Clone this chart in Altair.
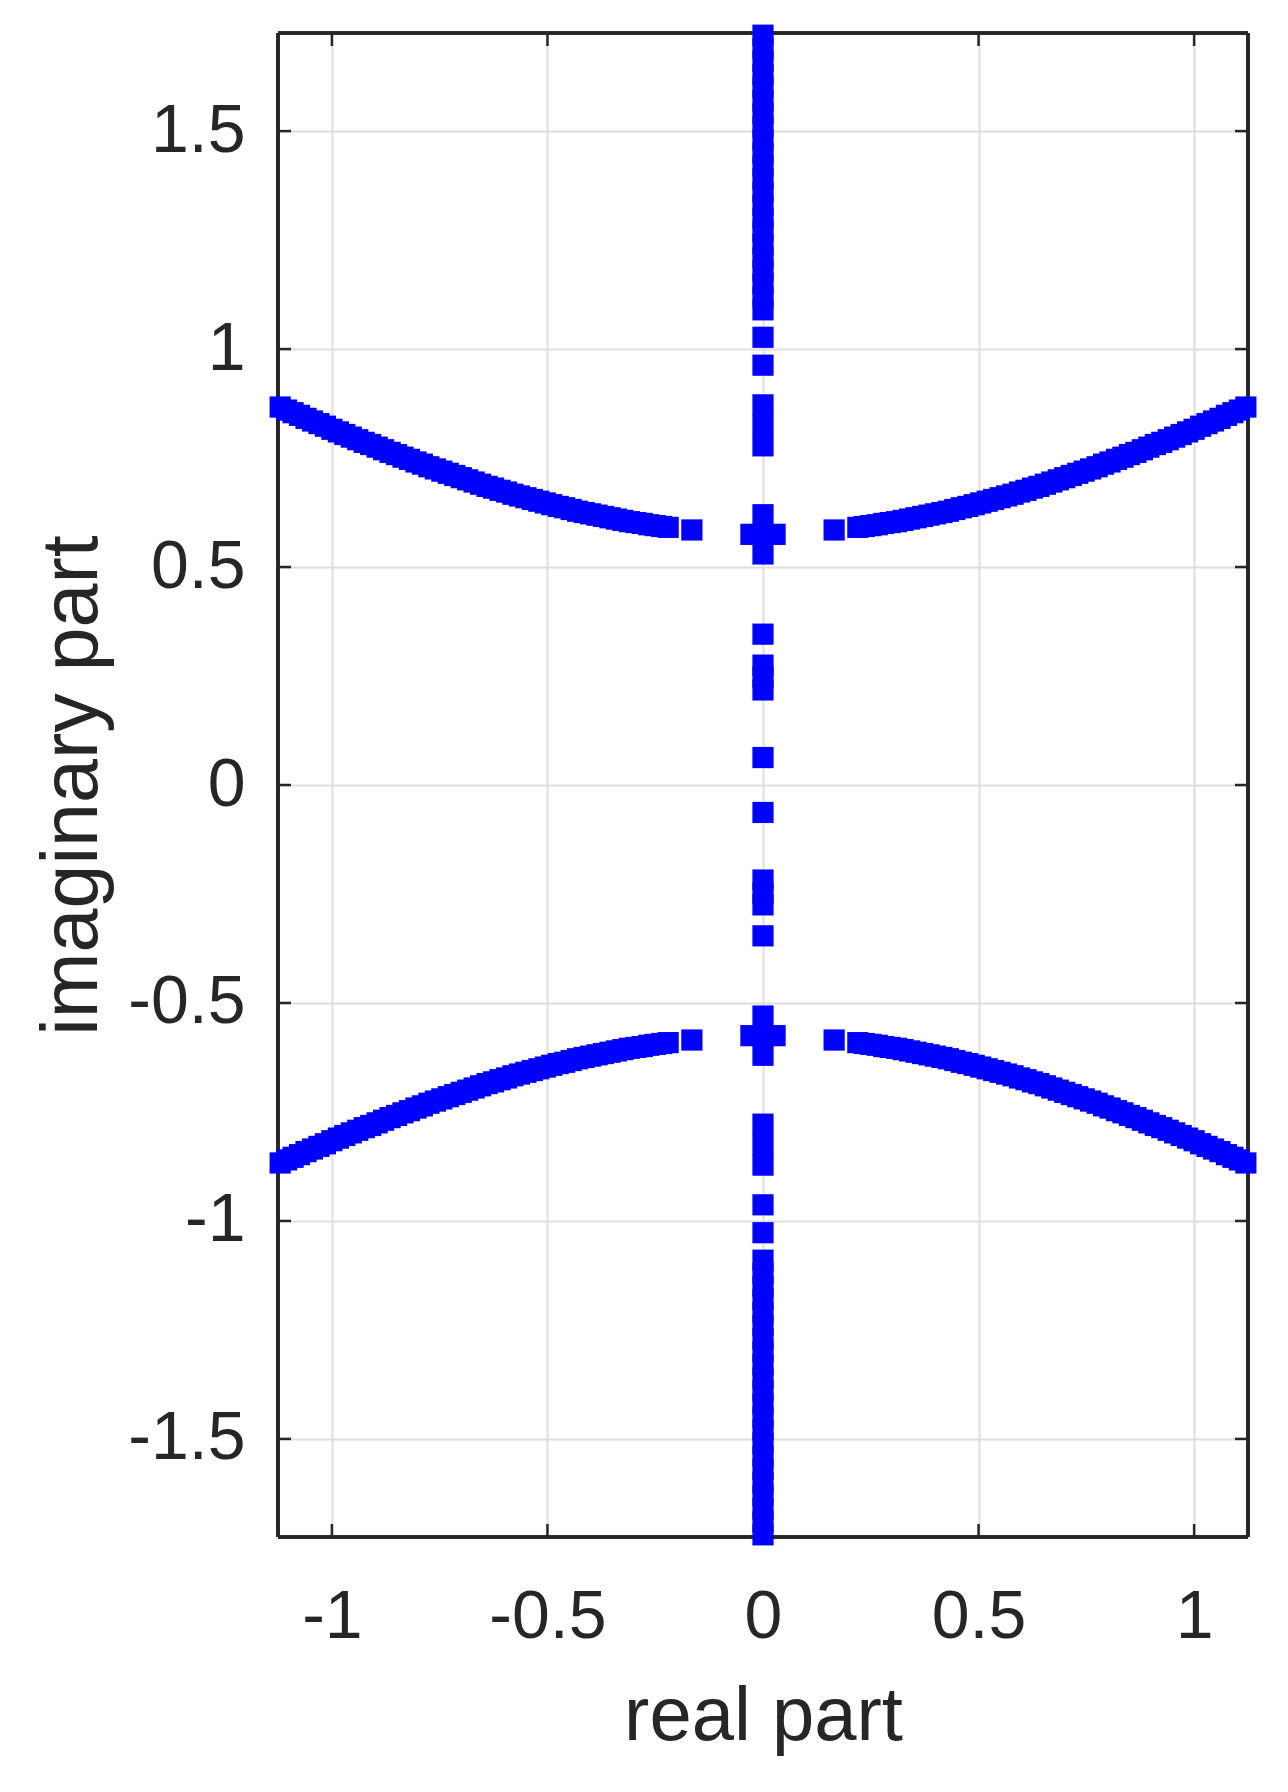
import altair as alt
import pandas as pd

# ---- data (positive quadrant; plot is symmetric) ----
curve_x = [1.12, 1.105, 1.09, 1.075, 1.06, 1.045, 1.03, 1.015, 1.00, 0.985,
           0.97, 0.955, 0.94, 0.925, 0.91, 0.895, 0.88, 0.865, 0.85, 0.835,
           0.82, 0.805, 0.79, 0.775, 0.76, 0.745, 0.73, 0.715, 0.70, 0.685,
           0.67, 0.655, 0.64, 0.625, 0.61, 0.595, 0.58, 0.565, 0.55, 0.535,
           0.52, 0.505, 0.49, 0.475, 0.46, 0.445, 0.43, 0.415, 0.40, 0.385,
           0.37, 0.355, 0.34, 0.325, 0.31, 0.295, 0.28, 0.265, 0.25, 0.235,
           0.22, 0.165]
curve_y = [0.867, 0.860, 0.854, 0.848, 0.841, 0.835, 0.829, 0.823, 0.816, 0.810,
           0.804, 0.798, 0.792, 0.786, 0.781, 0.775, 0.769, 0.763, 0.758, 0.752,
           0.747, 0.741, 0.736, 0.730, 0.725, 0.720, 0.715, 0.710, 0.705, 0.700,
           0.695, 0.690, 0.685, 0.681, 0.676, 0.672, 0.667, 0.663, 0.659, 0.655,
           0.651, 0.647, 0.643, 0.639, 0.636, 0.632, 0.628, 0.625, 0.622, 0.619,
           0.616, 0.613, 0.610, 0.607, 0.604, 0.602, 0.600, 0.597, 0.595, 0.593,
           0.591, 0.585]
axis_bar_y = [1.09, 1.12, 1.15, 1.18, 1.21, 1.24, 1.27, 1.30, 1.33, 1.36, 1.39,
              1.42, 1.45, 1.48, 1.51, 1.54, 1.57, 1.60, 1.63, 1.66, 1.69, 1.72]
axis_dot_y = [1.027, 0.963, 0.872, 0.825, 0.778, 0.62, 0.575, 0.53,
              0.346, 0.275, 0.248, 0.218, 0.063]
cross_x = [-0.028, 0.028]
cross_y = 0.575

x_ticks = [-1, -0.5, 0, 0.5, 1]
y_ticks = [-1.5, -1, -0.5, 0, 0.5, 1, 1.5]

rows = []
for sy in (1, -1):
    for sx in (1, -1):
        for a, b in zip(curve_x, curve_y):
            rows.append({"re": sx * a, "im": sy * b})
    for b in axis_bar_y + axis_dot_y:
        rows.append({"re": 0.0, "im": sy * b})
    for a in cross_x:
        rows.append({"re": a, "im": sy * cross_y})
df = pd.DataFrame(rows)

W, H = 970, 1504
FONT = "Liberation Sans"
TXT = "#262626"

xscale = alt.Scale(domain=[-1.125, 1.125], nice=False, zero=False)
yscale = alt.Scale(domain=[-1.725, 1.725], nice=False, zero=False)
xaxis = alt.Axis(values=x_ticks, title="real part", grid=True, ticks=False,
                 domain=False, labelExpr="'' + datum.value", labelFontSize=68,
                 labelPadding=46, titleFontSize=76, titlePadding=28,
                 labelFont=FONT, titleFont=FONT, labelColor=TXT, titleColor=TXT,
                 titleFontWeight="normal", gridColor="#dedede", gridWidth=2)
yaxis = alt.Axis(values=y_ticks, title="imaginary part", grid=True, ticks=False,
                 domain=False, labelExpr="'' + datum.value", labelFontSize=68,
                 labelPadding=33, titleFontSize=79, titlePadding=14,
                 labelFont=FONT, titleFont=FONT, labelColor=TXT, titleColor=TXT,
                 titleFontWeight="normal", gridColor="#dedede", gridWidth=2)


def X():
    return alt.X("re:Q", scale=xscale, axis=xaxis)


def Y():
    return alt.Y("im:Q", scale=yscale, axis=yaxis)


points = alt.Chart(df).mark_square(size=450, color="#0000ff", opacity=1,
                                   filled=True).encode(x=X(), y=Y())

xt = pd.DataFrame({"re": x_ticks})
yt = pd.DataFrame({"im": y_ticks})
TL = 13
tick_style = dict(color=TXT, strokeWidth=2.5)
tb = alt.Chart(xt).mark_rule(**tick_style).encode(x=X(), y=alt.value(H), y2=alt.value(H - TL))
tt = alt.Chart(xt).mark_rule(**tick_style).encode(x=X(), y=alt.value(0), y2=alt.value(TL))
tl = alt.Chart(yt).mark_rule(**tick_style).encode(y=Y(), x=alt.value(0), x2=alt.value(TL))
tr = alt.Chart(yt).mark_rule(**tick_style).encode(y=Y(), x=alt.value(W), x2=alt.value(W - TL))

frame_style = dict(color=TXT, strokeWidth=3)
f_top = alt.Chart(xt).mark_rule(**frame_style).encode(
    x=alt.value(0), x2=alt.value(W), y=alt.value(0))
f_bot = alt.Chart(xt).mark_rule(**frame_style).encode(
    x=alt.value(0), x2=alt.value(W), y=alt.value(H))
f_left = alt.Chart(xt).mark_rule(**frame_style).encode(
    x=alt.value(0), y=alt.value(0), y2=alt.value(H))
f_right = alt.Chart(xt).mark_rule(**frame_style).encode(
    x=alt.value(W), y=alt.value(0), y2=alt.value(H))

chart = alt.layer(tb, tt, tl, tr, f_top, f_bot, f_left, f_right, points).properties(
    width=W, height=H,
    autosize=alt.AutoSizeParams(type="none"),
    padding={"left": 270, "top": 25, "right": 30, "bottom": 250},
).configure_view(strokeWidth=0).configure(background="white")

chart.save("out.html", embed_options={"renderer": "svg", "actions": False})
